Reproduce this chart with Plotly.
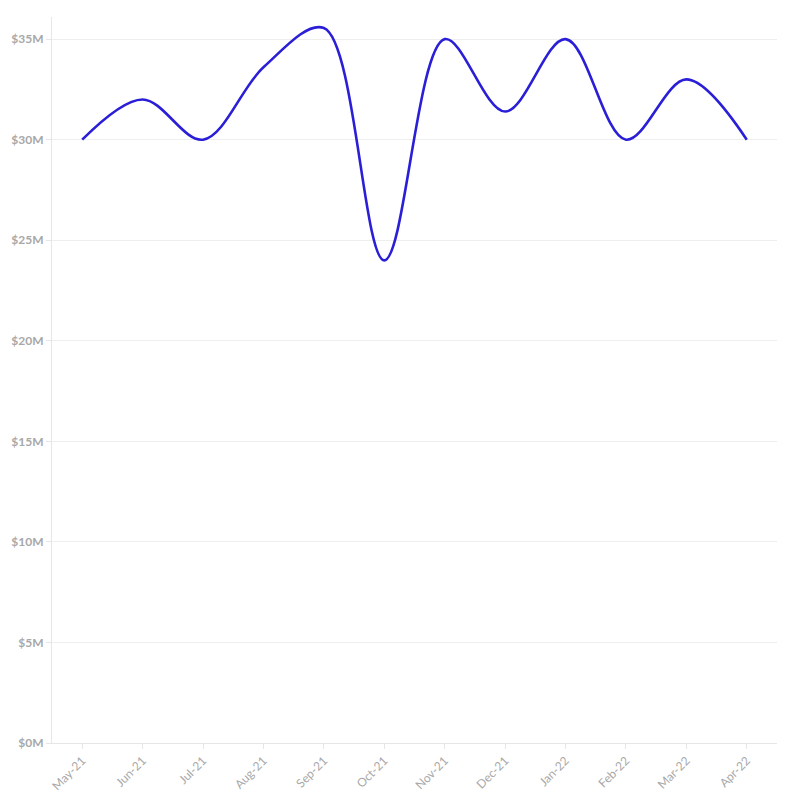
import plotly.graph_objects as go

months = ["May-21", "Jun-21", "Jul-21", "Aug-21", "Sep-21", "Oct-21",
          "Nov-21", "Dec-21", "Jan-22", "Feb-22", "Mar-22", "Apr-22"]
values = [30.0e6, 32.0e6, 30.0e6, 33.6e6, 35.55e6, 24.0e6,
          35.0e6, 31.4e6, 35.0e6, 30.0e6, 33.0e6, 30.0e6]
y_ticks = [0, 5e6, 10e6, 15e6, 20e6, 25e6, 30e6, 35e6]
y_tick_labels = ["$0M", "$5M", "$10M", "$15M", "$20M", "$25M", "$30M", "$35M"]

fig = go.Figure()
fig.add_trace(go.Scatter(
    x=months, y=values, mode="lines",
    line=dict(color="#2a1fd6", width=2.6, shape="spline", smoothing=1.0),
    hoverinfo="x+y",
))

fig.update_layout(
    width=780, height=785,
    margin=dict(l=44, r=11, t=9, b=50),
    paper_bgcolor="white", plot_bgcolor="white",
    showlegend=False,
    font=dict(family="Lato, 'Open Sans', sans-serif", color="#a8a8a8", size=12),
)
fig.update_xaxes(
    type="category", range=[-0.5, 11.5], automargin=False,
    tickangle=-45, showgrid=False,
    showline=True, linecolor="#e6e6e6", linewidth=1,
    ticks="outside", ticklen=5, tickcolor="#e6e6e6",
    tickfont=dict(size=12, color="#a8a8a8"),
)
fig.update_yaxes(
    range=[0, 36.1e6], automargin=False,
    tickvals=y_ticks, ticktext=y_tick_labels,
    showgrid=True, gridcolor="#eeeeee", gridwidth=1,
    showline=True, linecolor="#e6e6e6", linewidth=1,
    ticks="outside", ticklen=5, tickcolor="#e6e6e6",
    zeroline=False,
    tickfont=dict(size=12, color="#a8a8a8", weight="bold"),
)

fig.write_html("out.html")
